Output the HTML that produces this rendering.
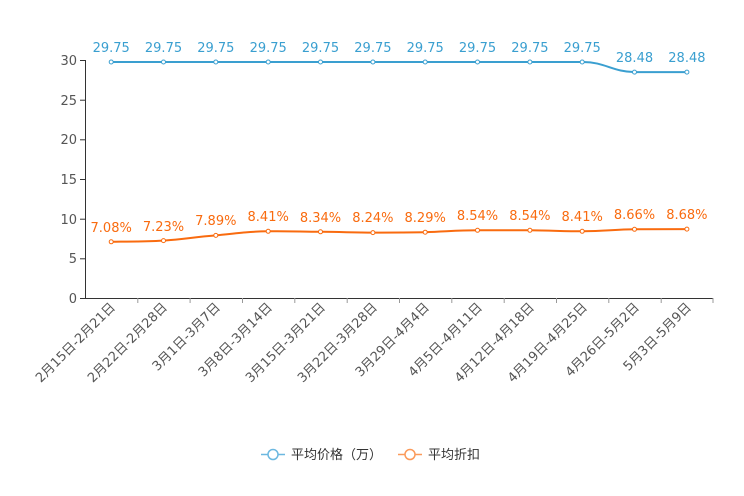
<!DOCTYPE html>
<html><head><meta charset="utf-8"><style>body{margin:0;background:#fff}svg{display:block}text{font-family:"DejaVu Sans","Noto Sans CJK SC",sans-serif}</style></head><body>
<svg width="744" height="496" xmlns="http://www.w3.org/2000/svg">
<g stroke="#333" stroke-width="1">
<line x1="85.5" y1="60" x2="85.5" y2="298"/>
<line x1="85" y1="298.5" x2="713" y2="298.5"/>
<line x1="80" y1="298.5" x2="85" y2="298.5"/><line x1="80" y1="258.8" x2="85" y2="258.8"/><line x1="80" y1="219.2" x2="85" y2="219.2"/><line x1="80" y1="179.5" x2="85" y2="179.5"/><line x1="80" y1="139.8" x2="85" y2="139.8"/><line x1="80" y1="100.2" x2="85" y2="100.2"/><line x1="80" y1="60.5" x2="85" y2="60.5"/>
</g>
<g stroke="#999" stroke-width="1">
<line x1="137.8" y1="298" x2="137.8" y2="303"/><line x1="190.1" y1="298" x2="190.1" y2="303"/><line x1="242.5" y1="298" x2="242.5" y2="303"/><line x1="294.8" y1="298" x2="294.8" y2="303"/><line x1="347.2" y1="298" x2="347.2" y2="303"/><line x1="399.5" y1="298" x2="399.5" y2="303"/><line x1="451.8" y1="298" x2="451.8" y2="303"/><line x1="504.2" y1="298" x2="504.2" y2="303"/><line x1="556.5" y1="298" x2="556.5" y2="303"/><line x1="608.8" y1="298" x2="608.8" y2="303"/><line x1="661.2" y1="298" x2="661.2" y2="303"/><line x1="713" y1="298" x2="713" y2="303"/>
</g>
<g font-size="13" fill="#555" text-anchor="end">
<text x="77" y="303">0</text><text x="77" y="263">5</text><text x="77" y="224">10</text><text x="77" y="184">15</text><text x="77" y="144">20</text><text x="77" y="105">25</text><text x="77" y="65">30</text>
</g>
<g font-size="13" fill="#555" text-anchor="end">
<text transform="translate(116,308) rotate(-45)">2月15日-2月21日</text>
<text transform="translate(168,308) rotate(-45)">2月22日-2月28日</text>
<text transform="translate(221,308) rotate(-45)">3月1日-3月7日</text>
<text transform="translate(273,308) rotate(-45)">3月8日-3月14日</text>
<text transform="translate(326,308) rotate(-45)">3月15日-3月21日</text>
<text transform="translate(378,308) rotate(-45)">3月22日-3月28日</text>
<text transform="translate(430,308) rotate(-45)">3月29日-4月4日</text>
<text transform="translate(483,308) rotate(-45)">4月5日-4月11日</text>
<text transform="translate(535,308) rotate(-45)">4月12日-4月18日</text>
<text transform="translate(588,308) rotate(-45)">4月19日-4月25日</text>
<text transform="translate(640,308) rotate(-45)">4月26日-5月2日</text>
<text transform="translate(692,308) rotate(-45)">5月3日-5月9日</text>
</g>
<path d="M111.2,62 L583,62 C605,62 613,72.1 635,72.1 L687.5,72.1" fill="none" stroke="#3a9fd0" stroke-width="2"/>
<path d="M111.2,241.8 C135,241.5 145,241.5 163.5,240.6 C185,239 195,237 216,235.4 C238,233 250,231.5 268,231.3 C290,231 300,231.7 321,231.8 C343,232 355,232.6 373,232.6 C395,232.6 405,232.5 425,232.2 C447,231.5 457,230.3 478,230.3 C500,230.3 510,230.3 530,230.3 C553,230.5 563,231.3 583,231.3 C605,231.1 615,229.5 635,229.3 L687.5,229.1" fill="none" stroke="#f96b0f" stroke-width="2"/>
<g fill="#fff" stroke="#3a9fd0" stroke-width="1">
<circle cx="111.2" cy="62" r="2"/><circle cx="163.5" cy="62" r="2"/><circle cx="215.8" cy="62" r="2"/><circle cx="268.2" cy="62" r="2"/><circle cx="320.5" cy="62" r="2"/><circle cx="372.9" cy="62" r="2"/><circle cx="425.2" cy="62" r="2"/><circle cx="477.5" cy="62" r="2"/><circle cx="529.9" cy="62" r="2"/><circle cx="582.2" cy="62" r="2"/><circle cx="634.5" cy="72.1" r="2"/><circle cx="686.9" cy="72.1" r="2"/>
</g>
<g fill="#fff" stroke="#f96b0f" stroke-width="1">
<circle cx="111.2" cy="241.8" r="2"/><circle cx="163.5" cy="240.6" r="2"/><circle cx="215.8" cy="235.4" r="2"/><circle cx="268.2" cy="231.3" r="2"/><circle cx="320.5" cy="231.8" r="2"/><circle cx="372.9" cy="232.6" r="2"/><circle cx="425.2" cy="232.2" r="2"/><circle cx="477.5" cy="230.3" r="2"/><circle cx="529.9" cy="230.3" r="2"/><circle cx="582.2" cy="231.3" r="2"/><circle cx="634.5" cy="229.3" r="2"/><circle cx="686.9" cy="229.1" r="2"/>
</g>
<g font-size="13" fill="#3a9fd0" text-anchor="middle">
<text x="111.2" y="52">29.75</text><text x="163.5" y="52">29.75</text><text x="215.8" y="52">29.75</text><text x="268.2" y="52">29.75</text><text x="320.5" y="52">29.75</text><text x="372.9" y="52">29.75</text><text x="425.2" y="52">29.75</text><text x="477.5" y="52">29.75</text><text x="529.9" y="52">29.75</text><text x="582.2" y="52">29.75</text><text x="634.5" y="62">28.48</text><text x="686.9" y="62">28.48</text>
</g>
<g font-size="13" fill="#f96b0f" text-anchor="middle">
<text x="111.2" y="232">7.08%</text><text x="163.5" y="231">7.23%</text><text x="215.8" y="225">7.89%</text><text x="268.2" y="221">8.41%</text><text x="320.5" y="222">8.34%</text><text x="372.9" y="222">8.24%</text><text x="425.2" y="222">8.29%</text><text x="477.5" y="220">8.54%</text><text x="529.9" y="220">8.54%</text><text x="582.2" y="221">8.41%</text><text x="634.5" y="219">8.66%</text><text x="686.9" y="219">8.68%</text>
</g>
<line x1="261" y1="454.5" x2="285" y2="454.5" stroke="#6cb8e0" stroke-width="1.5"/>
<circle cx="273" cy="454.5" r="5" fill="#fff" stroke="#6cb8e0" stroke-width="1.5"/>
<text x="291" y="459" font-size="13" fill="#333">平均价格（万）</text>
<line x1="398" y1="454.5" x2="422" y2="454.5" stroke="#fb9a5a" stroke-width="1.5"/>
<circle cx="410" cy="454.5" r="5" fill="#fff" stroke="#fb9a5a" stroke-width="1.5"/>
<text x="428" y="459" font-size="13" fill="#333">平均折扣</text>
</svg>
</body></html>
